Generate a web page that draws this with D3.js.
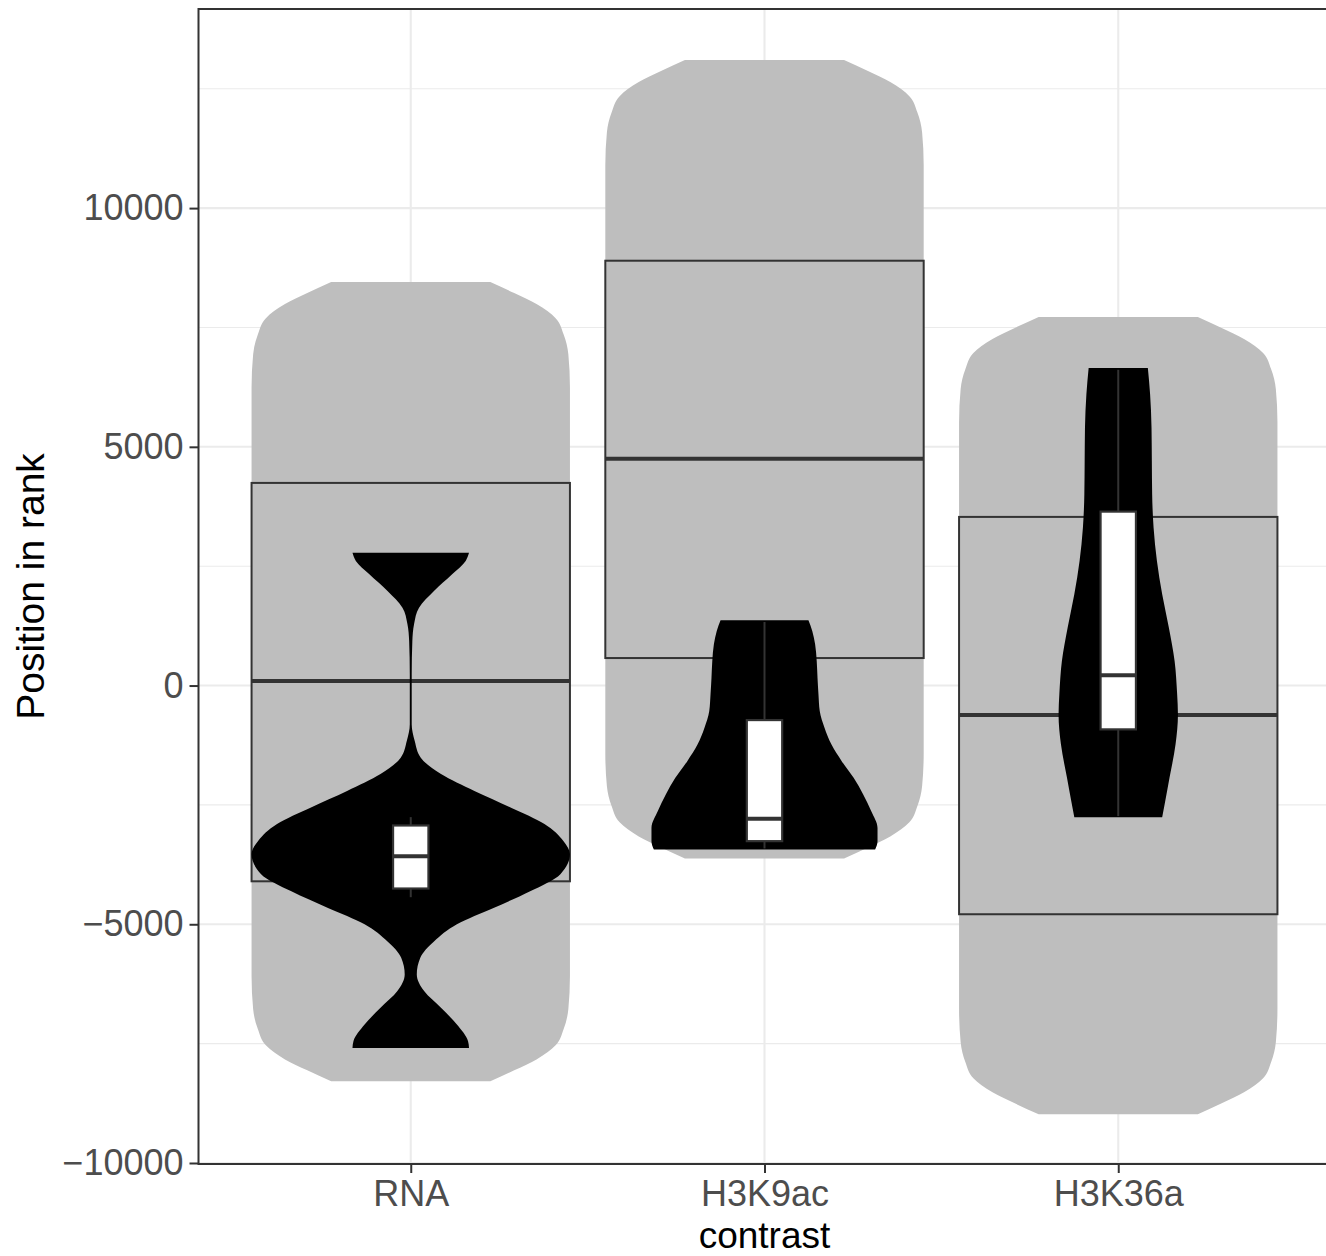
<!DOCTYPE html>
<html>
<head>
<meta charset="utf-8">
<script src="https://cdn.jsdelivr.net/npm/d3@7"></script>
<style>
  body { margin: 0; background: #fff; }
  text { font-family: "Liberation Sans", Arial, Helvetica, sans-serif; }
</style>
</head>
<body>
<div id="chart"></div>
<script>
// Categories and axis ticks
const categories = ["RNA", "H3K9ac", "H3K36a"];
const yTicks = [-10000, -5000, 0, 5000, 10000];
const yMinorTicks = [-7500, -2500, 2500, 7500, 12500];

// Background (grey) violins: [position, relative width]
const bgViolinRNA = [
  [8450, 0.50], [8220, 0.65], [7990, 0.79], [7695, 0.91], [7360, 0.96], [6940, 0.99], [6250, 1.0],
  [-6090, 1.0], [-6780, 0.99], [-7200, 0.96], [-7535, 0.91], [-7830, 0.79], [-8060, 0.65], [-8290, 0.50]
];
const bgViolinH3K9ac = [
  [13100, 0.50], [12870, 0.65], [12640, 0.79], [12345, 0.91], [12010, 0.96], [11590, 0.99], [10900, 1.0],
  [-1420, 1.0], [-2110, 0.99], [-2530, 0.96], [-2865, 0.91], [-3160, 0.79], [-3390, 0.65], [-3620, 0.50]
];
const bgViolinH3K36a = [
  [7720, 0.50], [7490, 0.65], [7260, 0.79], [6965, 0.91], [6630, 0.96], [6210, 0.99], [5520, 1.0],
  [-6780, 1.0], [-7470, 0.99], [-7890, 0.96], [-8225, 0.91], [-8520, 0.79], [-8750, 0.65], [-8980, 0.50]
];

// Background boxplots (lower hinge, median, upper hinge)
const bgLower = [-4100, 576, -4790];
const bgMedian = [94, 4748, -618];
const bgUpper = [4244, 8898, 3532];

// Foreground (black) violins: [position, relative width]
const fgViolinRNA = [
  [2780, 0.366], [2610, 0.345], [2330, 0.26], [1980, 0.146], [1630, 0.052], [1290, 0.021],
  [930, 0.01], [240, 0.006], [-810, 0.006], [-1160, 0.025], [-1510, 0.063], [-1855, 0.19],
  [-2210, 0.40], [-2560, 0.63], [-2900, 0.84], [-3260, 0.96], [-3530, 1.0], [-3950, 0.94],
  [-4310, 0.75], [-4660, 0.52], [-5000, 0.29], [-5360, 0.146], [-5700, 0.06], [-6050, 0.038],
  [-6400, 0.084], [-6750, 0.19], [-7100, 0.29], [-7450, 0.36], [-7590, 0.366]
];
const fgViolinH3K9ac = [
  [1367, 0.276], [1142, 0.30], [864, 0.318], [514, 0.328], [163, 0.333], [-184, 0.339],
  [-534, 0.347], [-885, 0.377], [-1232, 0.42], [-1583, 0.485], [-1933, 0.56], [-2280, 0.62],
  [-2630, 0.67], [-2981, 0.71], [-3259, 0.71], [-3433, 0.695]
];
const fgViolinH3K36a = [
  [6649, 0.186], [6104, 0.20], [5404, 0.209], [4706, 0.211], [4008, 0.213], [3307, 0.222],
  [2610, 0.243], [1912, 0.276], [1211, 0.318], [514, 0.354], [-184, 0.37], [-604, 0.375],
  [-1232, 0.36], [-1933, 0.322], [-2421, 0.295], [-2756, 0.276]
];

// Foreground boxplots
const fgWhiskerLow = [-4433, -3412, -2735];
const fgLower = [-4251, -3259, -918];
const fgMedian = [-3574, -2792, 214];
const fgUpper = [-2931, -723, 3643];
const fgWhiskerHigh = [-2756, 1331, 6613];

const bgViolins = [bgViolinRNA, bgViolinH3K9ac, bgViolinH3K36a];
const fgViolins = [fgViolinRNA, fgViolinH3K9ac, fgViolinH3K36a];

// Dimensions
const width = 1326;
const height = 1256;
const margin = { top: 9, left: 198.5 };
const panelWidth = 1132;
const panelHeight = 1155;

const svg = d3.select("#chart")
  .append("svg")
    .attr("width", width)
    .attr("height", height);

const g = svg.append("g")
  .attr("transform", `translate(${margin.left}, ${margin.top})`);

const x = d3.scalePoint()
  .domain(categories)
  .range([0, panelWidth])
  .padding(0.6);

const y = d3.scaleLinear()
  .domain([-10021, 14170])
  .range([panelHeight, 0]);

const step = x.step();
const halfViolin = 0.9 * step / 2;

// Grid
g.selectAll(".grid-minor")
  .data(yMinorTicks)
  .join("line")
    .attr("x1", 0).attr("x2", panelWidth)
    .attr("y1", d => y(d)).attr("y2", d => y(d))
    .attr("stroke", "#ebebeb")
    .attr("stroke-width", 1.1);

g.selectAll(".grid-major-y")
  .data(yTicks)
  .join("line")
    .attr("x1", 0).attr("x2", panelWidth)
    .attr("y1", d => y(d)).attr("y2", d => y(d))
    .attr("stroke", "#ebebeb")
    .attr("stroke-width", 2.1);

g.selectAll(".grid-major-x")
  .data(categories)
  .join("line")
    .attr("x1", d => x(d)).attr("x2", d => x(d))
    .attr("y1", 0).attr("y2", panelHeight)
    .attr("stroke", "#ebebeb")
    .attr("stroke-width", 2.1);

const violinArea = (cx, maxHalf) => d3.area()
  .curve(d3.curveMonotoneY)
  .y(d => y(d[0]))
  .x0(d => cx - d[1] * maxHalf)
  .x1(d => cx + d[1] * maxHalf);

// Grey violins
g.selectAll(".bg-violin")
  .data(bgViolins)
  .join("path")
    .attr("class", "bg-violin")
    .attr("fill", "#bebebe")
    .attr("d", (d, i) => violinArea(x(categories[i]), halfViolin)(d));

// Grey boxplots (outline only)
const bgBox = g.selectAll(".bg-box")
  .data(categories)
  .join("g")
    .attr("class", "bg-box");

bgBox.append("rect")
  .attr("x", d => x(d) - halfViolin)
  .attr("y", (d, i) => y(bgUpper[i]))
  .attr("width", halfViolin * 2)
  .attr("height", (d, i) => y(bgLower[i]) - y(bgUpper[i]))
  .attr("fill", "none")
  .attr("stroke", "#333333")
  .attr("stroke-width", 2);

bgBox.append("line")
  .attr("x1", d => x(d) - halfViolin)
  .attr("x2", d => x(d) + halfViolin)
  .attr("y1", (d, i) => y(bgMedian[i]))
  .attr("y2", (d, i) => y(bgMedian[i]))
  .attr("stroke", "#333333")
  .attr("stroke-width", 4);

// Black violins
g.selectAll(".fg-violin")
  .data(fgViolins)
  .join("path")
    .attr("class", "fg-violin")
    .attr("fill", "#000")
    .attr("d", (d, i) => violinArea(x(categories[i]), halfViolin)(d));

// White boxplots
const halfBox = 0.1 * step / 2;
const fgBox = g.selectAll(".fg-box")
  .data(categories)
  .join("g")
    .attr("class", "fg-box");

fgBox.append("line")
  .attr("x1", d => x(d)).attr("x2", d => x(d))
  .attr("y1", (d, i) => y(fgWhiskerHigh[i]))
  .attr("y2", (d, i) => y(fgUpper[i]))
  .attr("stroke", "#333333")
  .attr("stroke-width", 2);

fgBox.append("line")
  .attr("x1", d => x(d)).attr("x2", d => x(d))
  .attr("y1", (d, i) => y(fgLower[i]))
  .attr("y2", (d, i) => y(fgWhiskerLow[i]))
  .attr("stroke", "#333333")
  .attr("stroke-width", 2);

fgBox.append("rect")
  .attr("x", d => x(d) - halfBox)
  .attr("y", (d, i) => y(fgUpper[i]))
  .attr("width", halfBox * 2)
  .attr("height", (d, i) => y(fgLower[i]) - y(fgUpper[i]))
  .attr("fill", "#fff")
  .attr("stroke", "#333333")
  .attr("stroke-width", 2.2);

fgBox.append("line")
  .attr("x1", d => x(d) - halfBox)
  .attr("x2", d => x(d) + halfBox)
  .attr("y1", (d, i) => y(fgMedian[i]))
  .attr("y2", (d, i) => y(fgMedian[i]))
  .attr("stroke", "#333333")
  .attr("stroke-width", 4);

// Panel border
g.append("rect")
  .attr("x", 0).attr("y", 0)
  .attr("width", panelWidth).attr("height", panelHeight)
  .attr("fill", "none")
  .attr("stroke", "#333333")
  .attr("stroke-width", 2);

// Axes
const yAxis = g.append("g")
  .call(d3.axisLeft(y).tickValues(yTicks).tickFormat(d3.format("d")).tickSize(9).tickPadding(6));

const xAxis = g.append("g")
  .attr("transform", `translate(0, ${panelHeight})`)
  .call(d3.axisBottom(x).tickSize(9).tickPadding(7));

[yAxis, xAxis].forEach(ax => {
  ax.select(".domain").remove();
  ax.selectAll(".tick line").attr("stroke", "#333333").attr("stroke-width", 2);
  ax.selectAll(".tick text")
    .attr("fill", "#4d4d4d")
    .style("font-size", "36px")
    .style("font-family", "'Liberation Sans', Arial, sans-serif");
});

// Axis titles
svg.append("text")
  .attr("x", margin.left + x("H3K9ac"))
  .attr("y", 1247.5)
  .attr("text-anchor", "middle")
  .attr("fill", "#000")
  .style("font-size", "37px")
  .text("contrast");

svg.append("text")
  .attr("transform", `translate(44, ${margin.top + panelHeight / 2}) rotate(-90)`)
  .attr("text-anchor", "middle")
  .attr("fill", "#000")
  .style("font-size", "39px")
  .text("Position in rank");
</script>
</body>
</html>
